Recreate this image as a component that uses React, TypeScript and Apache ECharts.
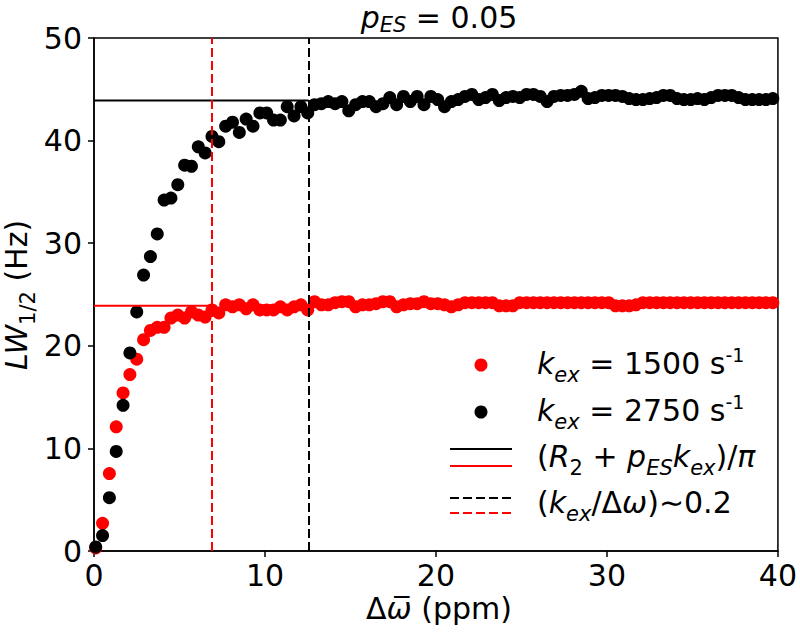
import React, { useEffect, useRef } from 'react';
import * as echarts from 'echarts';

// Δω̄ (ppm) sampling grid
const deltaOmega = [
  0.1, 0.5, 0.9, 1.3, 1.7, 2.1, 2.5, 2.9, 3.3, 3.7,
  4.1, 4.5, 4.9, 5.3, 5.7, 6.1, 6.5, 6.9, 7.3, 7.7,
  8.1, 8.5, 8.9, 9.3, 9.7, 10.1, 10.5, 10.9, 11.3, 11.7,
  12.1, 12.5, 12.9, 13.3, 13.7, 14.1, 14.5, 14.9, 15.3, 15.7,
  16.1, 16.5, 16.9, 17.3, 17.7, 18.1, 18.5, 18.9, 19.3, 19.7,
  20.1, 20.5, 20.9, 21.3, 21.7, 22.1, 22.5, 22.9, 23.3, 23.7,
  24.1, 24.5, 24.9, 25.3, 25.7, 26.1, 26.5, 26.9, 27.3, 27.7,
  28.1, 28.5, 28.9, 29.3, 29.7, 30.1, 30.5, 30.9, 31.3, 31.7,
  32.1, 32.5, 32.9, 33.3, 33.7, 34.1, 34.5, 34.9, 35.3, 35.7,
  36.1, 36.5, 36.9, 37.3, 37.7, 38.1, 38.5, 38.9, 39.3, 39.7,
];

// LW1/2 (Hz), kex = 1500 s^-1
const lw1500 = [
  0.3, 2.7, 7.55, 12.1, 15.4, 17.2, 18.7, 20.6, 21.5, 21.8,
  21.8, 22.7, 23.0, 22.7, 23.3, 23.0, 22.8, 23.5, 23.2, 24.0,
  23.8, 24.0, 23.6, 24.0, 23.5, 23.5, 23.5, 23.8, 23.5, 23.8,
  24.0, 23.5, 24.3, 24.0, 24.0, 24.2, 24.3, 24.3, 23.8, 24.0,
  24.0, 24.1, 24.3, 24.3, 23.8, 24.0, 24.1, 24.1, 24.3, 24.1,
  24.1, 24.0, 23.8, 24.0, 24.2, 24.2, 24.2, 24.2, 24.2, 23.9,
  23.9, 23.9, 24.2, 24.2, 24.2, 24.2, 24.2, 24.2, 24.2, 24.2,
  24.2, 24.2, 24.2, 24.2, 24.2, 24.2, 23.9, 23.9, 23.9, 24.0,
  24.2, 24.2, 24.2, 24.2, 24.2, 24.2, 24.2, 24.2, 24.2, 24.2,
  24.2, 24.2, 24.2, 24.2, 24.2, 24.2, 24.2, 24.2, 24.2, 24.2,
];

// LW1/2 (Hz), kex = 2750 s^-1
const lw2750 = [
  0.4, 1.5, 5.2, 9.7, 14.2, 19.3, 23.3, 26.9, 28.7, 30.9,
  34.2, 34.4, 35.7, 37.6, 37.5, 39.4, 38.8, 40.4, 39.9, 41.4,
  41.8, 40.8, 42.1, 41.4, 42.7, 42.7, 42.0, 42.0, 43.3, 42.4,
  43.3, 42.7, 43.5, 43.6, 43.8, 43.6, 43.8, 42.9, 43.5, 43.8,
  43.8, 43.3, 43.6, 44.2, 43.5, 44.3, 43.8, 44.3, 43.5, 44.3,
  44.0, 43.3, 43.8, 44.0, 44.3, 44.5, 44.0, 44.2, 44.5, 43.9,
  44.2, 44.3, 44.2, 44.5, 44.5, 44.3, 43.8, 44.3, 44.4, 44.4,
  44.5, 44.8, 44.1, 44.2, 44.4, 44.4, 44.4, 44.3, 44.1, 44.0,
  44.0, 44.1, 44.2, 44.4, 44.4, 44.1, 44.0, 44.0, 44.1, 44.0,
  44.2, 44.4, 44.4, 44.4, 44.2, 44.0, 44.0, 44.0, 44.0, 44.1,
];

// (R2 + pES kex)/π plateau levels (Hz)
const plateau1500 = 23.9;
const plateau2750 = 43.9;
// Δω where kex/Δω ~ 0.2 (ppm)
const cross1500 = 6.9;
const cross2750 = 12.55;

const xTicks = { min: 0, max: 40, interval: 10 };
const yTicks = { min: 0, max: 50, interval: 10 };

const FONT = "'DejaVu Sans', 'Noto Sans', sans-serif";
const FS = 30;
const SUB = 21;

function richFor(lh: number) {
  return {
    n: { fontSize: FS, fontFamily: FONT, fill: '#000', color: '#000', lineHeight: lh, verticalAlign: 'middle' },
    i: { fontSize: FS, fontFamily: FONT, fontStyle: 'italic', fill: '#000', color: '#000', lineHeight: lh, verticalAlign: 'middle' },
    sub: { fontSize: SUB, fontFamily: FONT, fontStyle: 'italic', fill: '#000', color: '#000', lineHeight: lh, verticalAlign: 'bottom' },
    subn: { fontSize: SUB, fontFamily: FONT, fill: '#000', color: '#000', lineHeight: lh, verticalAlign: 'bottom' },
    sup: { fontSize: 19, fontFamily: FONT, fill: '#000', color: '#000', lineHeight: lh, verticalAlign: 'top', padding: [4, 0, 0, 0] },
  };
}

function txt(x: number, y: number, text: string, align = 'left', rotation = 0, lh = 44) {
  return {
    type: 'text',
    x,
    y,
    rotation,
    style: { text, rich: richFor(lh), align, verticalAlign: 'middle', fill: '#000' },
    z: 100,
  };
}

export default function App() {
  const ref = useRef<HTMLDivElement>(null);
  useEffect(() => {
    document.body.style.margin = '0';
    const chart = echarts.init(ref.current!, null, { renderer: 'svg' });
    const axisCommon = {
      type: 'value',
      axisLine: { show: true, onZero: false, lineStyle: { color: '#000', width: 1.5 } },
      axisTick: { show: true, inside: false, length: 6, lineStyle: { color: '#000', width: 1.5 } },
      splitLine: { show: false },
    };
    const legendX1 = 450;
    const legendX2 = 512;
    chart.setOption({
      animation: false,
      backgroundColor: '#fff',
      textStyle: { fontFamily: FONT },
      grid: { left: 94, right: 16, top: 38, bottom: 82, show: true, borderColor: '#000', borderWidth: 1.5, backgroundColor: 'transparent' },
      xAxis: {
        ...axisCommon,
        ...xTicks,
        axisLabel: { fontSize: FS, color: '#000', margin: 9, fontFamily: FONT },
      },
      yAxis: {
        ...axisCommon,
        ...yTicks,
        axisLabel: { fontSize: FS, color: '#000', margin: 12, fontFamily: FONT },
      },
      series: [
        {
          type: 'scatter',
          name: 'kex=1500',
          data: deltaOmega.map((x, i) => [x, lw1500[i]]),
          symbolSize: 13,
          itemStyle: { color: '#ff0000', opacity: 1 },
          z: 2,
        },
        {
          type: 'scatter',
          name: 'kex=2750',
          data: deltaOmega.map((x, i) => [x, lw2750[i]]),
          symbolSize: 13,
          itemStyle: { color: '#000000', opacity: 1 },
          z: 3,
        },
        {
          type: 'line',
          name: 'plateau2750',
          data: [[0, plateau2750], [cross2750, plateau2750]],
          showSymbol: false,
          symbol: 'none',
          lineStyle: { color: '#000', width: 2 },
          z: 4,
          markLine: {
            silent: true,
            symbol: 'none',
            label: { show: false },
            data: [{ xAxis: cross2750, lineStyle: { color: '#000', width: 2, type: [9, 4] } }],
          },
        },
        {
          type: 'line',
          name: 'plateau1500',
          data: [[0, plateau1500], [cross1500, plateau1500]],
          showSymbol: false,
          symbol: 'none',
          lineStyle: { color: '#ff0000', width: 2 },
          z: 4,
          markLine: {
            silent: true,
            symbol: 'none',
            label: { show: false },
            data: [{ xAxis: cross1500, lineStyle: { color: '#ff0000', width: 2, type: [9, 4] } }],
          },
        },
      ],
      graphic: [
        txt(439, 17, '{i|p}{sub|ES}{n| = 0.05}', 'center', 0, 36),
        txt(439, 608, '{n|Δ}{i|ω̅}{n| (ppm)}', 'center', 0, 32),
        txt(16, 295, '{i|LW}{subn|1/2}{n| (Hz)}', 'center', Math.PI / 2),
        { type: 'circle', shape: { cx: 481, cy: 365, r: 6.5 }, style: { fill: '#ff0000' }, z: 100 },
        { type: 'circle', shape: { cx: 481, cy: 412, r: 6.5 }, style: { fill: '#000' }, z: 100 },
        { type: 'line', shape: { x1: legendX1, y1: 449, x2: legendX2, y2: 449 }, style: { stroke: '#000', lineWidth: 2 }, z: 100 },
        { type: 'line', shape: { x1: legendX1, y1: 466, x2: legendX2, y2: 466 }, style: { stroke: '#ff0000', lineWidth: 2 }, z: 100 },
        { type: 'line', shape: { x1: legendX1, y1: 498, x2: legendX2, y2: 498 }, style: { stroke: '#000', lineWidth: 2, lineDash: [9, 4] }, z: 100 },
        { type: 'line', shape: { x1: legendX1, y1: 513, x2: legendX2, y2: 513 }, style: { stroke: '#ff0000', lineWidth: 2, lineDash: [9, 4] }, z: 100 },
        txt(537, 363, '{i|k}{sub|ex}{n| = 1500}{n| s}{sup|-1}'),
        txt(537, 410, '{i|k}{sub|ex}{n| = 2750}{n| s}{sup|-1}'),
        txt(537, 456, '{n|(}{i|R}{subn|2}{n| + }{i|p}{sub|ES}{i|k}{sub|ex}{n|)/}{i|π}'),
        txt(537, 502, '{n|(}{i|k}{sub|ex}{n|/Δ}{i|ω}{n|)∼0.2}'),
      ],
    });
    return () => chart.dispose();
  }, []);
  return <div ref={ref} style={{ width: 800, height: 633 }} />;
}
